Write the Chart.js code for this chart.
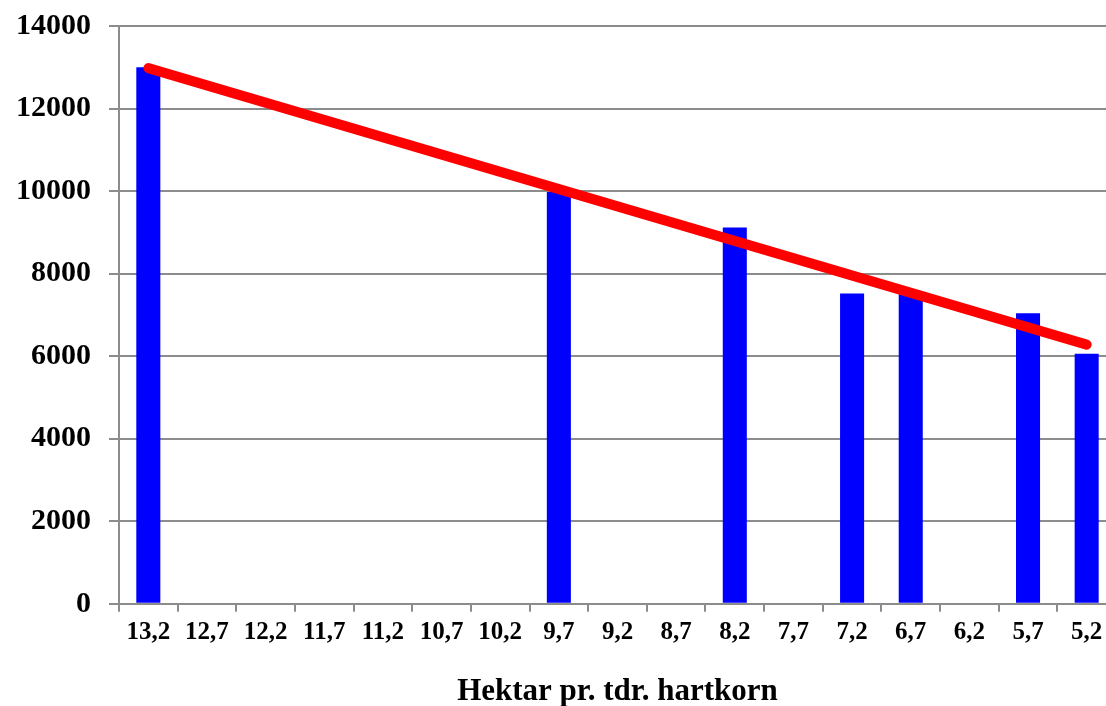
<!DOCTYPE html>
<html>
<head>
<meta charset="utf-8">
<script src="https://cdn.jsdelivr.net/npm/chart.js@4"></script>
<style>
  html, body { margin: 0; padding: 0; background: #fff; overflow: hidden; }
  #wrap { position: absolute; left: 0; top: -10px; width: 1116px; height: 721px; }
</style>
</head>
<body>
<div id="wrap"><canvas id="myChart"></canvas></div>
<script>
const labels = ['13,2', '12,7', '12,2', '11,7', '11,2', '10,7', '10,2', '9,7', '9,2',
  '8,7', '8,2', '7,7', '7,2', '6,7', '6,2', '5,7', '5,2'];
// bars (only some categories have a value)
const hektarValues = [13000, null, null, null, null, null, null, 9980, null,
  null, 9120, null, 7520, 7500, null, 7040, 6060];
// trend line, read at its two ends
const trendValues = [12980, null, null, null, null, null, null, null, null,
  null, null, null, null, null, null, null, 6280];
const yTicks = [0, 2000, 4000, 6000, 8000, 10000, 12000, 14000];
const xTitle = 'Hektar pr. tdr. hartkorn';

const font = 'Liberation Serif';

const ctx = document.getElementById('myChart').getContext('2d');
const myChart = new Chart(ctx, {
  type: 'bar',
  data: {
    labels: labels,
    datasets: [{
      type: 'line',
      data: trendValues,
      borderColor: '#ff0000',
      borderWidth: 10,
      borderCapStyle: 'round',
      pointRadius: 0,
      spanGaps: true,
      order: 0
    }, {
      type: 'bar',
      data: hektarValues,
      backgroundColor: '#0000ff',
      barPercentage: 0.41,
      categoryPercentage: 1,
      order: 1
    }]
  },
  options: {
    responsive: true,
    maintainAspectRatio: false,
    animation: false,
    layout: { padding: { top: 3, right: 0, bottom: 0, left: 0 } },
    plugins: { legend: { display: false }, tooltip: { enabled: false } },
    scales: {
      x: {
        grid: { drawOnChartArea: false, drawTicks: true, tickLength: 8, color: '#8c8c8c', lineWidth: 2 },
        border: { color: '#8c8c8c', width: 2 },
        ticks: {
          color: '#000', maxRotation: 0, autoSkip: false, padding: 6,
          font: { family: font, size: 25, weight: 'bold' }
        },
        title: {
          display: true, text: xTitle, color: '#000', padding: { top: 20, bottom: 0 },
          font: { family: font, size: 31, weight: 'bold' }
        }
      },
      y: {
        min: 0, max: 14000,
        afterBuildTicks: function (axis) {
          axis.ticks = yTicks.map(function (v) { return { value: v }; });
        },
        afterFit: function (axis) { axis.width = 119; },
        grid: { color: '#8c8c8c', lineWidth: 2, tickLength: 10 },
        border: { color: '#8c8c8c', width: 2 },
        ticks: {
          color: '#000', padding: 18,
          font: { family: font, size: 30, weight: 'bold' },
          callback: function (value) { return String(value); }
        }
      }
    }
  }
});
</script>
</body>
</html>
